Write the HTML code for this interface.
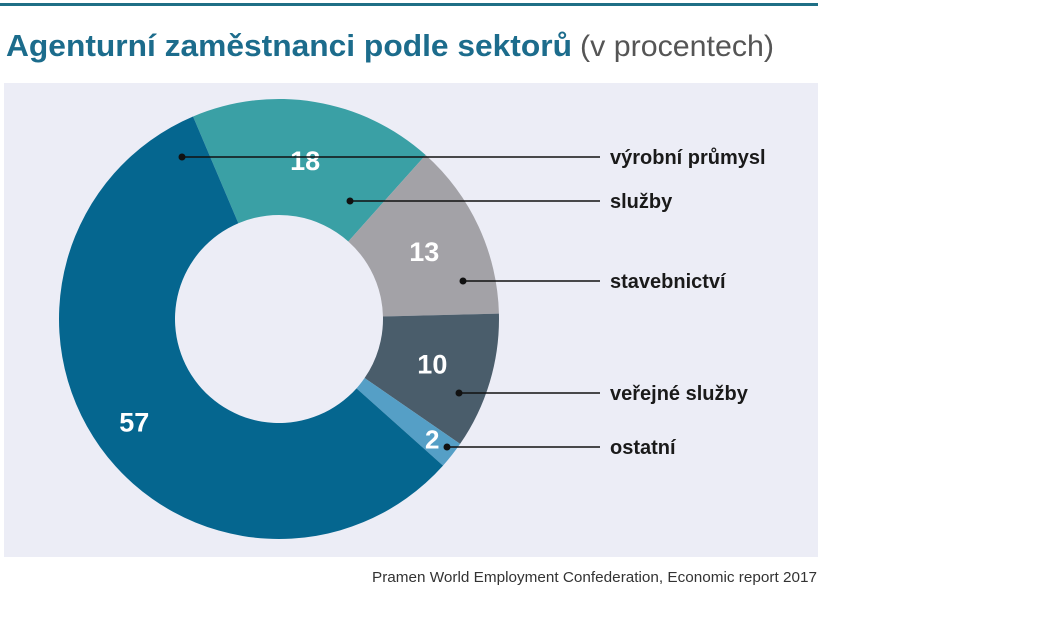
<!DOCTYPE html>
<html><head><meta charset="utf-8"><style>
html,body{margin:0;padding:0;background:#fff;width:1051px;height:621px;overflow:hidden}
svg{display:block;font-family:"Liberation Sans",sans-serif}
</style></head><body>
<svg id="c" width="1051" height="621" viewBox="0 0 1051 621">
<rect x="0" y="3" width="818" height="3" fill="#1f6f86"/>
<text x="6" y="56" font-size="31" font-weight="bold" fill="#1c6c8c" textLength="566" lengthAdjust="spacingAndGlyphs">Agenturní zaměstnanci podle sektorů</text>
<text x="580" y="56" font-size="30" fill="#555" textLength="194" lengthAdjust="spacingAndGlyphs">(v procentech)</text>
<rect x="4" y="83" width="814" height="474" fill="#ecedf6"/>
<g id="slices"></g>
<g id="labels"></g>
<text x="817" y="582" font-size="15" fill="#333" text-anchor="end" textLength="445" lengthAdjust="spacingAndGlyphs">Pramen World Employment Confederation, Economic report 2017</text>
</svg>
<script>
const categories = ["výrobní průmysl","služby","stavebnictví","veřejné služby","ostatní"];
const values = [57,18,13,10,2];
const order = [1,2,3,4,0];
const colors = ["#05668f","#3aa0a5","#a3a2a7","#4a5d6b","#559fc6"];
const cx=279, cy=319, R=220, r=104, start=-23;
const NS="http://www.w3.org/2000/svg";
const total=values.reduce((a,b)=>a+b,0);
function pt(deg,rad){const a=(deg-90)*Math.PI/180;return [cx+rad*Math.cos(a),cy+rad*Math.sin(a)];}
const sg=document.getElementById('slices'), lg=document.getElementById('labels');
const labelY=[157,204,281,395,445];
const numPos=[[0.5,0.55],[0.5,0.55],[0.45,0.55],[0.5,0.55],[0.5,0.55]];
let ang=start;
const mids={};
order.forEach(i=>{
  const sweep=values[i]/total*360, a0=ang, a1=ang+sweep; ang=a1;
  const [x0,y0]=pt(a0,R),[x1,y1]=pt(a1,R),[x2,y2]=pt(a1,r),[x3,y3]=pt(a0,r);
  const lf=sweep>180?1:0;
  const p=document.createElementNS(NS,'path');
  p.setAttribute('d',`M${x0},${y0}A${R},${R} 0 ${lf} 1 ${x1},${y1}L${x2},${y2}A${r},${r} 0 ${lf} 0 ${x3},${y3}Z`);
  p.setAttribute('fill',colors[i]);
  
  
  sg.appendChild(p);
  mids[i]=(a0+a1)/2;
  const [tx,ty]=pt(mids[i],i===0?178:(i===4?195:160));
  const t=document.createElementNS(NS,'text');
  t.setAttribute('x',tx);t.setAttribute('y',ty+9);
  t.setAttribute('text-anchor','middle');t.setAttribute('font-size',i===4?26:27);
  t.setAttribute('font-weight','bold');t.setAttribute('fill','#fff');
  t.textContent=values[i];
  
  
  lg.appendChild(t);
});
const dots=[[182,157],[350,201],[463,281],[459,393],[447,447]];
categories.forEach((c,i)=>{
  const y=labelY[i];
  const d=dots[i];
  const l=document.createElementNS(NS,'line');
  l.setAttribute('x1',d[0]);l.setAttribute('y1',d[1]);l.setAttribute('x2',600);l.setAttribute('y2',d[1]);
  l.setAttribute('stroke','#111');l.setAttribute('stroke-width','1.5');
  
  
  lg.appendChild(l);
  const ci=document.createElementNS(NS,'circle');
  ci.setAttribute('cx',d[0]);ci.setAttribute('cy',d[1]);ci.setAttribute('r',3.5);ci.setAttribute('fill','#111');
  
  
  lg.appendChild(ci);
  const t=document.createElementNS(NS,'text');
  t.setAttribute('x',610);t.setAttribute('y',d[1]+7);
  t.setAttribute('font-size',20);t.setAttribute('font-weight','bold');t.setAttribute('fill','#1a1a1a');
  t.textContent=c;
  
  
  lg.appendChild(t);
});
</script>
</body></html>
